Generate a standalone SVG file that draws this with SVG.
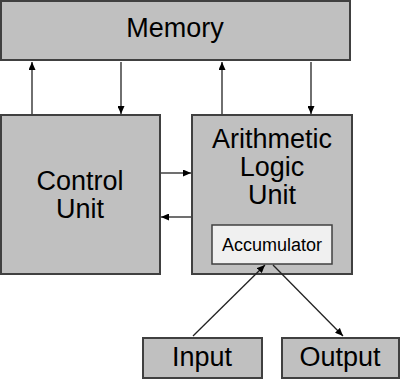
<svg xmlns="http://www.w3.org/2000/svg" width="401" height="379" viewBox="0 0 401 379">
<defs>
<style>
.box{fill:#c0c0c0;stroke:#404040;stroke-width:2}
.acc{fill:#f0f0f0;stroke:#404040;stroke-width:1.5}
.t{font-family:"Liberation Sans",Arial,sans-serif;font-size:27px;fill:#000;text-anchor:middle}
.s{font-size:18px}
.c{stroke:#222;stroke-width:1.3;fill:none;marker-end:url(#ah)}
</style>
<marker id="ah" viewBox="0 0 8 8" refX="8" refY="4" markerWidth="8" markerHeight="7" markerUnits="userSpaceOnUse" orient="auto" preserveAspectRatio="none">
<path d="M0,0 L8,4 L0,8 Z" fill="#000"/>
</marker>
</defs>
<rect width="401" height="379" fill="#fff"/>
<g id="memory"><rect class="box" x="1" y="1" width="349" height="59"/><text class="t" x="175" y="37">Memory</text></g>
<g id="control-unit"><rect class="box" x="1" y="115" width="159" height="159"/><text class="t" x="80" y="190">Control</text><text class="t" x="80" y="218">Unit</text></g>
<g id="alu"><rect class="box" x="192" y="115" width="160" height="159"/><text class="t" x="272" y="148">Arithmetic</text><text class="t" x="272" y="176">Logic</text><text class="t" x="272" y="204">Unit</text></g>
<g id="accumulator"><rect class="acc" x="212" y="225" width="120" height="39"/><text class="t s" x="272" y="251">Accumulator</text></g>
<g id="input"><rect class="box" x="143" y="338" width="119" height="40"/><text class="t" x="202" y="366">Input</text></g>
<g id="output"><rect class="box" x="282" y="338" width="117" height="40"/><text class="t" x="340" y="366">Output</text></g>
<g id="connectors">
<line class="c" x1="32" y1="114" x2="32" y2="62"/>
<line class="c" x1="121" y1="62" x2="121" y2="114"/>
<line class="c" x1="222" y1="114" x2="222" y2="62"/>
<line class="c" x1="311" y1="62" x2="311" y2="114"/>
<line class="c" x1="161" y1="173" x2="191" y2="173"/>
<line class="c" x1="191" y1="217" x2="161" y2="217"/>
<line class="c" x1="193" y1="336" x2="265" y2="265"/>
<line class="c" x1="273" y1="265" x2="343" y2="336"/>
</g>
</svg>
